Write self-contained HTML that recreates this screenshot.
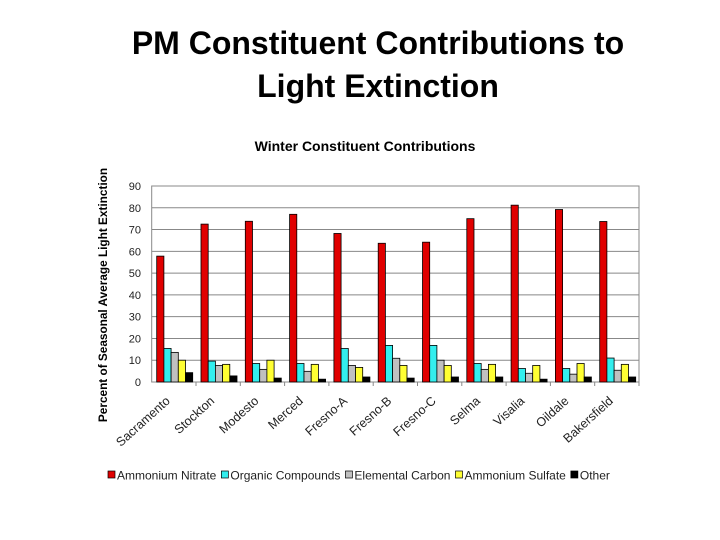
<!DOCTYPE html>
<html><head><meta charset="utf-8">
<style>
body{margin:0;background:#fff;width:720px;height:540px;overflow:hidden;font-family:"Liberation Sans",Arial,sans-serif}
#hd{position:absolute;left:0;top:22px;width:756px;text-align:center;font-size:32px;font-weight:bold;color:#000;line-height:43px}
svg{position:absolute;left:0;top:0}
</style></head><body>
<div id="hd">PM Constituent Contributions to<br>Light Extinction</div>
<svg id="c" width="720" height="540"></svg>
<script>
const categories=["Sacramento","Stockton","Modesto","Merced","Fresno-A","Fresno-B","Fresno-C","Selma","Visalia","Oildale","Bakersfield"];
const seriesNames=["Ammonium Nitrate","Organic Compounds","Elemental Carbon","Ammonium Sulfate","Other"];
const nitrate=[57.8,72.5,73.8,77,68.2,63.7,64.2,75,81.2,79.2,73.7];
const organic=[15.4,9.6,8.5,8.5,15.4,16.8,16.8,8.5,6.2,6.2,11];
const elemental=[13.6,7.6,5.8,4.9,7.6,10.9,10,5.8,4,3.6,5.4];
const sulfate=[10,8.1,10,8.1,6.7,7.6,7.6,8.1,7.6,8.5,8.1];
const other=[4.3,2.8,1.8,1.3,2.3,1.8,2.3,2.3,1.3,2.3,2.3];
const yTicks=[0,10,20,30,40,50,60,70,80,90];
const series=[nitrate,organic,elemental,sulfate,other];
const colors=["#e00000","#33eeee","#c0c0c0","#ffff33","#000000"];
const NS="http://www.w3.org/2000/svg";
const svg=document.getElementById('c');
const L=151.7,R=639,T=186,B=382,yMax=90;
const y=v=>B-(v/yMax)*(B-T);
const gw=(R-L)/categories.length;
const x=i=>L+i*gw;
function mk(t,a,p){const e=document.createElementNS(NS,t);for(const k in a)e.setAttribute(k,a[k]);(p||svg).appendChild(e);return e;}
let e=mk('text',{x:365,y:151,'text-anchor':'middle','font-size':'14','font-weight':'bold','font-family':'Liberation Sans, sans-serif'});e.textContent='Winter Constituent Contributions';


e=mk('text',{x:0,y:0,transform:'translate(107,295) rotate(-90)','text-anchor':'middle','font-size':'11.8','font-weight':'bold'});e.textContent='Percent of Seasonal Average Light Extinction';


yTicks.forEach(t=>{
 const g=mk('line',{x1:L,x2:R,y1:y(t),y2:y(t),stroke:'#888','stroke-width':1});
 
 
 const l=mk('text',{x:141,y:y(t)+4,'text-anchor':'end','font-size':'11',fill:'#222'});l.textContent=t;
 
 
});
e=mk('rect',{x:L,y:T,width:R-L,height:B-T,fill:'none',stroke:'#888'});


const bw=7.2,off=5;
categories.forEach((c,i)=>{
 series.forEach((s,j)=>{
  const r=mk('rect',{x:x(i)+off+j*bw,y:y(s[i]),width:bw,height:B-y(s[i]),fill:colors[j],stroke:'#000','stroke-width':0.8});
  
  
 });
 const tk=mk('line',{x1:x(i+1),x2:x(i+1),y1:B,y2:B+4,stroke:'#888'});
 
 
 const cx=x(i)+gw/2;
 const l=mk('text',{x:0,y:0,transform:`translate(${cx-3},${B+20}) rotate(-42)`,'text-anchor':'end','font-size':'12.5',fill:'#222'});l.textContent=c;
 
 
});
let lx=108;
seriesNames.forEach((n,j)=>{
 const r=mk('rect',{x:lx,y:471,width:7,height:7,fill:colors[j],stroke:'#000','stroke-width':0.7});
 
 
 const t=mk('text',{x:lx+9,y:479.5,'font-size':'12',fill:'#222'});t.textContent=n;
 
 
 lx+=9+t.getComputedTextLength()+5;
});
</script>
</body></html>
